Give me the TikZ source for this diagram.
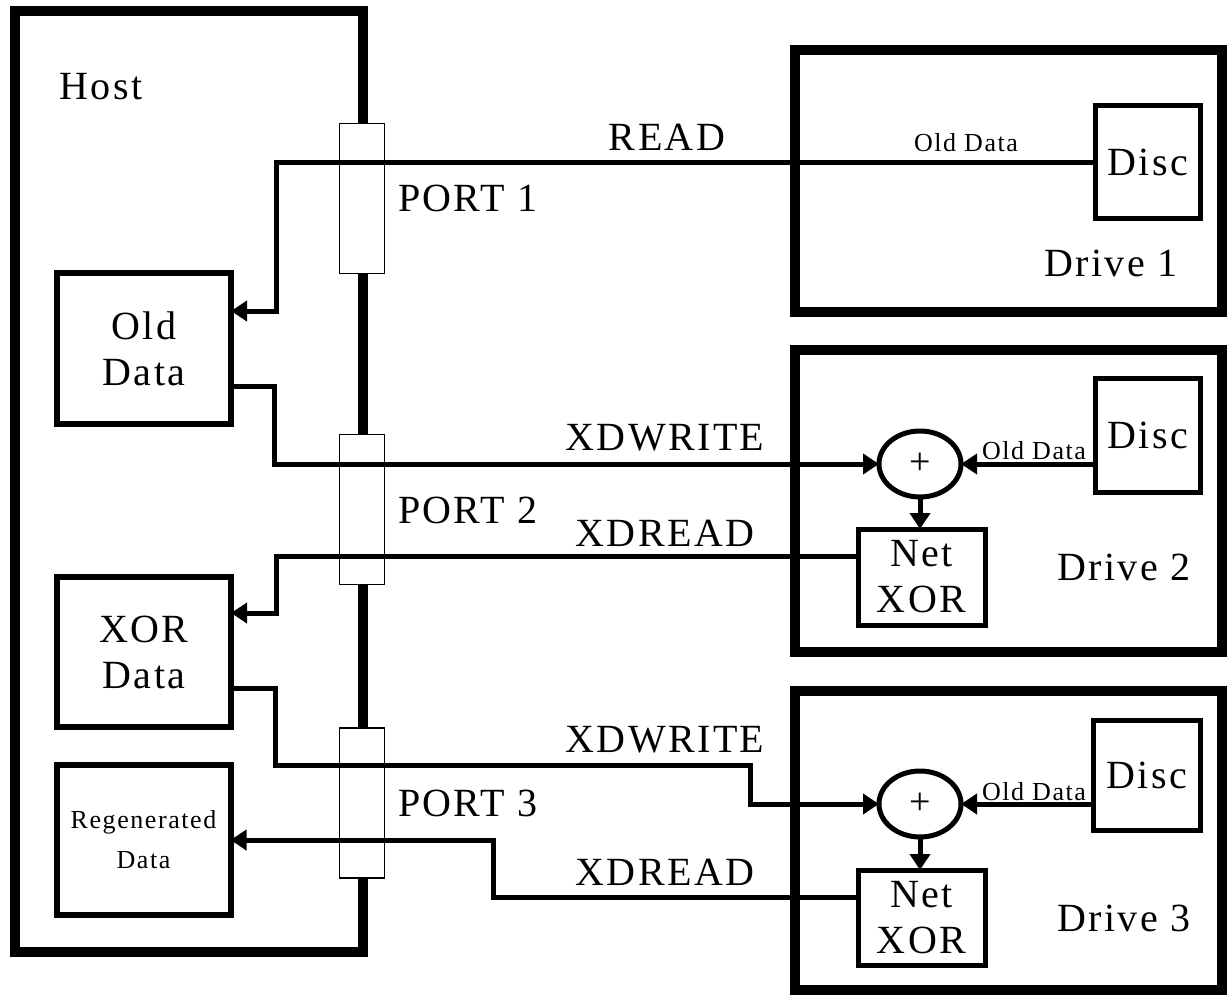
\documentclass[tikz,border=0pt]{standalone}
\usepackage{fontspec}
\setmainfont{Liberation Serif}[LetterSpace=6]
\usepackage{tikz}
\usetikzlibrary{positioning,calc,arrows.meta,shapes.geometric}

\begin{document}
\begin{tikzpicture}[x=0.5pt,y=-0.5pt,
  every node/.style={inner sep=0pt,outer sep=0pt},
  hostbox/.style={draw,line width=5pt,minimum width=213.5pt},
  databox/.style={draw,line width=3pt,minimum width=87pt,minimum height=75pt,align=center},
  portbox/.style={draw,fill=white,line width=0.75pt,minimum width=22.5pt,minimum height=75pt},
  discbox/.style={draw,line width=2.5pt,minimum width=52.5pt,minimum height=56.5pt},
  netbox/.style={draw,line width=2.5pt,minimum width=63.5pt,minimum height=48pt,align=center},
  sumnode/.style={draw,ellipse,line width=2.5pt,minimum width=41pt,minimum height=33pt,
    font=\fontsize{19}{19}\selectfont},
  sig/.style={line width=2.5pt},
  sigarrow/.style={sig,-{Triangle[length=8pt,width=10pt]}},
  big/.style={font=\fontsize{20}{23}\selectfont},
  small/.style={font=\fontsize{13}{15}\selectfont}]
\useasboundingbox (0,0) rectangle (1228,995);
% HOST: host box with its three ports
\node[draw,line width=5pt,minimum width=174pt,minimum height=470.5pt] (host) at (189,481.5) {};
\node[big] (hostlbl) at (101,87) {Host};
\node[portbox] (port1) at (362,198.5) {};
\node[portbox] (port2) at (362,509.5) {};
\node[portbox] (port3) at (362,803) {};
\node[big,anchor=west] (port1lbl) at (398,198) {PORT 1};
\node[big,anchor=west] (port2lbl) at (398,510) {PORT 2};
\node[big,anchor=west] (port3lbl) at (398,803) {PORT 3};
\node[databox,big] (olddata) at (144,348.5) {Old\\Data};
\node[databox,big] (xordata) at (144,652) {XOR\\Data};
\node[databox,font=\fontsize{13}{20}\selectfont] (regen) at (143.5,840) {Regenerated\\Data};
% DRIVES: outer boxes and their labels
\node[hostbox,minimum height=131pt] (drive1) at (1008.5,181) {};
\node[hostbox,minimum height=151pt] (drive2) at (1008.5,501) {};
\node[hostbox,minimum height=149.5pt] (drive3) at (1008.5,840.5) {};
\node[big] (drive1lbl) at (1111,263) {Drive 1};
\node[big] (drive2lbl) at (1124,567) {Drive 2};
\node[big] (drive3lbl) at (1124,918) {Drive 3};
% DRIVE INTERNALS: disc, xor and net xor
\node[discbox,big] (disc1) at (1147.5,162.5) {Disc};
\node[discbox,big,minimum height=57pt] (disc2) at (1147.5,435) {Disc};
\node[discbox,big,minimum width=53.5pt,minimum height=55pt] (disc3) at (1146.5,775) {Disc};
\node[sumnode] (sum2) at (920,464) {+};
\node[sumnode] (sum3) at (920,804) {+};
\node[netbox,big] (net2) at (921.5,577) {Net\\XOR};
\node[netbox,big,minimum height=47.5pt] (net3) at (921.5,917.5) {Net\\XOR};
% CONNECTORS: bend points
\coordinate (rd1) at (276,311);
\coordinate (wr2) at (274,386);
\coordinate (rd2) at (276,556);
\coordinate (rd2b) at (276,613);
\coordinate (wr3) at (275,688);
\coordinate (wr3b) at (750,765);
\coordinate (rd3) at (493,897);
% READ from drive 1
\draw[sigarrow] (disc1.west) -| (rd1) -- (rd1 -| olddata.east);
\node[big] (readlbl) at (667,137) {READ};
\node[small] (old1lbl) at (966,143) {Old Data};
% XDWRITE / XDREAD with drive 2
\draw[sigarrow] (wr2 -| olddata.east) -- (wr2) |- (sum2.west);
\draw[sigarrow] (disc2.west |- sum2.east) -- (sum2.east);
\draw[sigarrow] (sum2.south) -- (sum2.south |- net2.north);
\draw[sigarrow] (rd2 -| net2.west) -- (rd2) -- (rd2b) -- (rd2b -| xordata.east);
\node[big] (xw2lbl) at (665,438) {XDWRITE};
\node[big] (xr2lbl) at (665,533) {XDREAD};
\node[small] (old2lbl) at (1034,451) {Old Data};
% XDWRITE / XDREAD with drive 3
\draw[sigarrow] (wr3 -| xordata.east) -- (wr3) |- (wr3b) |- (sum3.west);
\draw[sigarrow] (disc3.west |- sum3.east) -- (sum3.east);
\draw[sigarrow] (sum3.south) -- (sum3.south |- net3.north);
\draw[sigarrow] (rd3 -| net3.west) -- (rd3) |- (regen.east);
\node[big] (xw3lbl) at (665,740) {XDWRITE};
\node[big] (xr3lbl) at (665,872) {XDREAD};
\node[small] (old3lbl) at (1034,792) {Old Data};
\end{tikzpicture}
\end{document}
